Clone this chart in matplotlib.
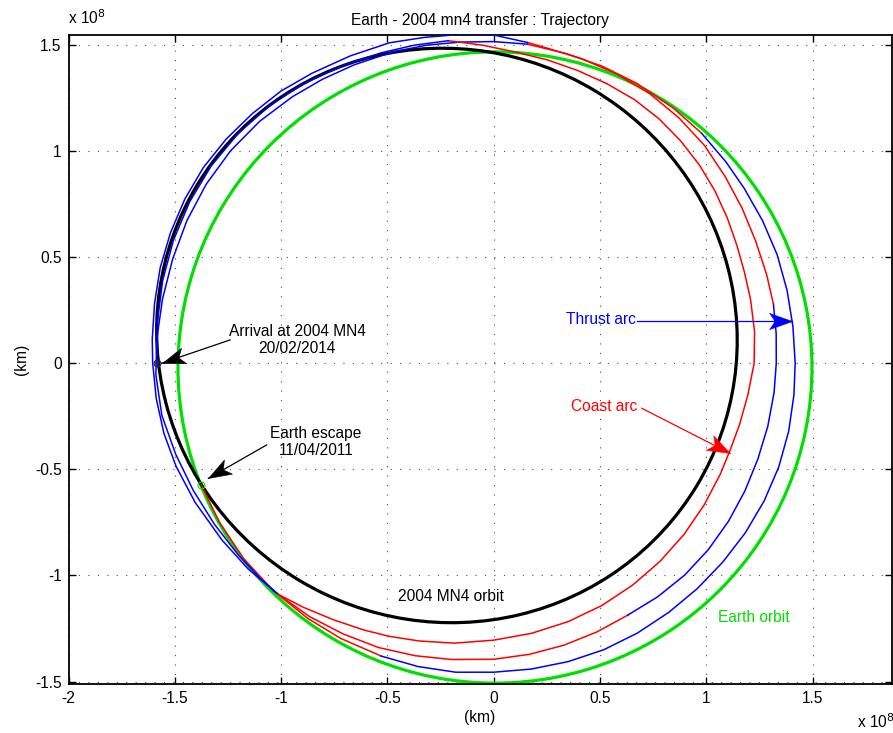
import numpy as np
import matplotlib
matplotlib.use("Agg")
import matplotlib.pyplot as plt
from matplotlib.patches import Ellipse
from matplotlib.path import Path
from matplotlib.markers import MarkerStyle
from matplotlib.transforms import Affine2D

plt.rcParams['font.family'] = ['Liberation Sans', 'DejaVu Sans']

# ---- data (units of 1e8 km, angles in degrees, unwrapped) ----
earth_center = (0.006, -0.020)
earth_size = (2.982, 2.975)
mn4_center = (-0.220, 0.131)
mn4_size = (2.744, 2.694)
mn4_angle = 149.0

seg_kind = ['coast', 'thrust', 'coast', 'thrust', 'coast', 'thrust',
            'coast', 'thrust', 'coast', 'thrust']
seg_theta = [
    [202.6, 210, 218, 226, 234, 241, 249],
    [249, 256, 263, 270, 277, 284, 291, 298, 305, 312, 319, 326, 333, 340, 347, 354, 360,
     367, 374, 381, 388, 395, 401, 408],
    [408, 415, 423, 430, 437, 444],
    [444, 450, 456, 462, 468, 475, 481, 487, 494, 501, 508, 515, 522, 529, 536, 542, 549,
     556, 563, 570, 577, 583, 587],
    [587, 594, 601, 608, 615, 622, 630, 637, 644, 651, 658],
    [658, 665, 672, 679, 686, 693, 700, 707, 714, 720, 726, 732],
    [732, 738, 745, 752, 759, 766, 773, 780, 787, 794, 800, 804],
    [804, 810, 816, 822, 828, 835, 842, 848, 854, 860, 866, 872, 878, 884, 890, 896, 900,
     906, 912, 918, 925, 933, 940, 947],
    [947, 952, 958, 964, 969, 975, 982, 990, 998, 1006, 1014, 1022, 1030, 1038, 1046, 1054,
     1060, 1066, 1073, 1080, 1087, 1094, 1100, 1106, 1112, 1118, 1124, 1130, 1136, 1142,
     1148, 1154, 1160, 1166, 1172, 1178],
    [1178, 1184, 1190, 1197, 1204, 1211, 1218, 1225, 1232, 1239, 1246, 1253, 1260],
]
seg_r = [
    [1.490, 1.492, 1.494, 1.491, 1.487, 1.483, 1.478],
    [1.478, 1.473, 1.467, 1.456, 1.452, 1.449, 1.446, 1.440, 1.434, 1.430, 1.428, 1.428,
     1.428, 1.427, 1.424, 1.420, 1.418, 1.418, 1.422, 1.428, 1.432, 1.438, 1.447, 1.460],
    [1.460, 1.470, 1.481, 1.490, 1.499, 1.512],
    [1.512, 1.516, 1.522, 1.532, 1.542, 1.552, 1.562, 1.573, 1.585, 1.592, 1.594, 1.592,
     1.588, 1.587, 1.589, 1.590, 1.580, 1.556, 1.535, 1.517, 1.503, 1.494, 1.488],
    [1.488, 1.475, 1.459, 1.445, 1.427, 1.410, 1.395, 1.382, 1.369, 1.356, 1.344],
    [1.344, 1.344, 1.343, 1.338, 1.332, 1.326, 1.322, 1.323, 1.326, 1.329, 1.336, 1.345],
    [1.345, 1.350, 1.360, 1.378, 1.400, 1.427, 1.448, 1.467, 1.481, 1.494, 1.505, 1.520],
    [1.520, 1.547, 1.558, 1.570, 1.588, 1.598, 1.612, 1.627, 1.635, 1.643, 1.648, 1.646,
     1.640, 1.632, 1.620, 1.610, 1.604, 1.596, 1.586, 1.571, 1.550, 1.526, 1.508, 1.488],
    [1.488, 1.458, 1.425, 1.398, 1.378, 1.355, 1.332, 1.305, 1.285, 1.267, 1.250, 1.233,
     1.218, 1.205, 1.194, 1.187, 1.185, 1.192, 1.205, 1.225, 1.236, 1.245, 1.255, 1.272,
     1.295, 1.320, 1.345, 1.368, 1.390, 1.408, 1.421, 1.435, 1.452, 1.470, 1.500, 1.535],
    [1.535, 1.545, 1.556, 1.572, 1.592, 1.608, 1.618, 1.622, 1.620, 1.614, 1.605, 1.594, 1.585],
]
escape_pt = (-1.377, -0.574)
arrival_pt = (-1.585, 0.0)

x_ticks = [-2, -1.5, -1, -0.5, 0, 0.5, 1, 1.5]
x_ticklabels = ['-2', '-1.5', '-1', '-0.5', '0', '0.5', '1', '1.5']
y_ticks = [-1.5, -1, -0.5, 0, 0.5, 1, 1.5]
y_ticklabels = ['-1.5', '-1', '-0.5', '0', '0.5', '1', '1.5']

GREEN = '#00e000'
colors = {'coast': '#ff0000', 'thrust': '#0000ff'}
FS = 11.2

fig = plt.figure(figsize=(8.93, 7.33), dpi=100)
ax = fig.add_axes([68.5 / 893, (733 - 684.3) / 733, (891.7 - 68.5) / 893, (684.3 - 35) / 733])
ax.set_xlim(-2, 1.872)
ax.set_ylim(-1.513, 1.547)

ax.set_xticks(x_ticks)
ax.set_xticklabels(x_ticklabels)
ax.set_yticks(y_ticks)
ax.set_yticklabels(y_ticklabels)
ax.grid(True, color='0.3', linestyle=(0, (1, 7.5)), linewidth=0.8)
ax.set_axisbelow(True)
ax.tick_params(direction='in', top=True, right=True, length=5, width=1,
               labelsize=FS, pad=5)
for s in ax.spines.values():
    s.set_linewidth(1.3)

ax.add_patch(Ellipse(earth_center, earth_size[0], earth_size[1], fill=False,
                     edgecolor=GREEN, linewidth=2.3, zorder=2))
ax.add_patch(Ellipse(mn4_center, mn4_size[0], mn4_size[1], angle=mn4_angle, fill=False,
                     edgecolor='black', linewidth=2.3, zorder=2))

for kind, th, rr in zip(seg_kind, seg_theta, seg_r):
    t = np.deg2rad(np.array(th))
    r = np.array(rr)
    ax.plot(r * np.cos(t), r * np.sin(t), color=colors[kind], linewidth=1.1, zorder=3)

ax.plot(*escape_pt, 'o', mfc='none', mec=GREEN, ms=5, mew=0.8, zorder=4)
ax.plot(*arrival_pt, 'o', mfc='none', mec='#202060', ms=5, mew=0.8, zorder=4)
ax.plot(*arrival_pt, '*', color='#202060', ms=4, mew=0.5, zorder=4)

# MATLAB-like barbed arrow heads
head_path = Path([(0, 0), (-24, 8.5), (-18, 0), (-24, -8.5), (0, 0)],
                 [Path.MOVETO, Path.LINETO, Path.LINETO, Path.LINETO, Path.CLOSEPOLY])


def draw_arrow(tail, tip, color):
    ax.plot([tail[0], tip[0]], [tail[1], tip[1]], color=color, linewidth=0.9, zorder=5)
    p0 = ax.transData.transform(tail)
    p1 = ax.transData.transform(tip)
    ang = np.degrees(np.arctan2(p1[1] - p0[1], p1[0] - p0[0]))
    mk = MarkerStyle(head_path, transform=Affine2D().rotate_deg(ang))
    ax.plot([tip[0]], [tip[1]], marker=mk, ms=33, color=color, mec=color, mew=0.4,
            linestyle='none', zorder=6)


draw_arrow((-1.24, 0.11), (-1.562, 0.0), 'black')
ax.text(-0.925, 0.11, 'Arrival at 2004 MN4\n20/02/2014', ha='center', va='center',
        fontsize=FS, linespacing=1.1)
draw_arrow((-1.068, -0.385), (-1.342, -0.542), 'black')
ax.text(-0.835, -0.371, 'Earth escape\n11/04/2011', ha='center', va='center',
        fontsize=FS, linespacing=1.1)
draw_arrow((0.672, 0.200), (1.402, 0.200), '#0000ff')
ax.text(0.505, 0.204, 'Thrust arc', ha='center', va='center', fontsize=FS, color='#0000ff')
draw_arrow((0.696, -0.212), (1.111, -0.424), '#ff0000')
ax.text(0.521, -0.206, 'Coast arc', ha='center', va='center', fontsize=FS, color='#ff0000')
ax.text(-0.2, -1.101, '2004 MN4 orbit', ha='center', va='center', fontsize=FS)
ax.text(1.225, -1.20, 'Earth orbit', ha='center', va='center', fontsize=FS, color=GREEN)

ax.set_title('Earth - 2004 mn4 transfer : Trajectory', fontsize=FS, pad=7)
ax.set_xlabel('(km)', fontsize=FS, labelpad=3)
ax.set_ylabel('(km)', fontsize=FS, labelpad=4)
fig.text(68 / 893, 1 - 18 / 733, r'x 10$^{8}$', fontsize=FS, va='center', ha='left')
fig.text(857 / 893, 1 - 722 / 733, r'x 10$^{8}$', fontsize=FS, va='center', ha='left')

fig.savefig('out.png', dpi=100)
